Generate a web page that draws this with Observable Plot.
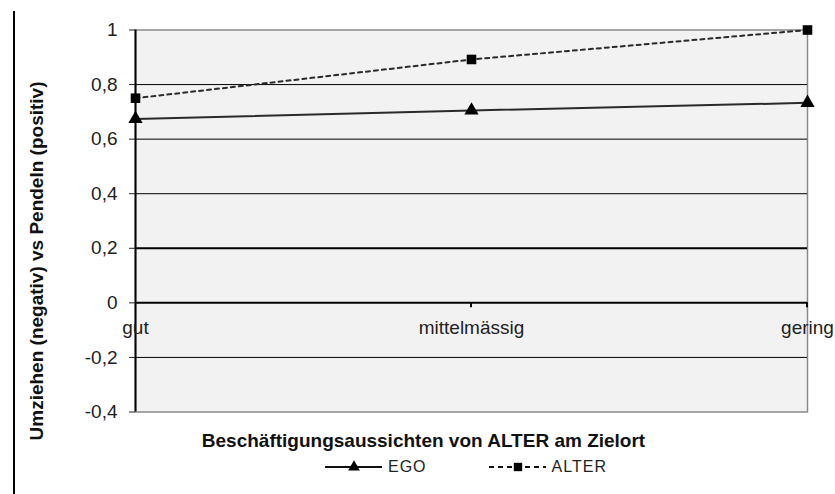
<!DOCTYPE html>
<html><head><meta charset="utf-8">
<script src="https://cdn.jsdelivr.net/npm/d3@7"></script>
<script src="https://cdn.jsdelivr.net/npm/@observablehq/plot@0.6"></script>
<style>
body{margin:0;background:#fff;font-family:"Liberation Sans",Arial,sans-serif;}
#wrap{position:relative;width:835px;height:494px;overflow:hidden;}
#vline{position:absolute;left:13px;top:11px;width:2px;height:483px;background:#000;}
#title{position:absolute;left:0;width:835px;top:431px;text-align:center;font-weight:bold;font-size:19px;line-height:19px;color:#111;padding-left:12px;box-sizing:border-box;}
#legend{position:absolute;top:457px;left:325px;height:20px;display:flex;align-items:center;font-size:16px;letter-spacing:1px;color:#222;}
#legend .item{display:flex;align-items:center;}
#legend svg{display:block;}
</style></head>
<body>
<div id="wrap">
<div id="chart"></div>
<div id="vline"></div>
<div id="title"></div>
<div id="legend"></div>
</div>
<script>
const categories = ["gut", "mittelmässig", "gering"];
const egoValues = [0.674, 0.705, 0.733];
const alterValues = [0.75, 0.892, 1.0];
const seriesNames = ["EGO", "ALTER"];
const yTicks = [-0.4, -0.2, 0, 0.2, 0.4, 0.6, 0.8, 1];
const categoryAxisAt = 0;
const xTitle = "Beschäftigungsaussichten von ALTER  am Zielort";
const yTitle = "Umziehen (negativ) vs Pendeln (positiv)";

const ego = categories.map((c, i) => ({cat: c, v: egoValues[i]}));
const alter = categories.map((c, i) => ({cat: c, v: alterValues[i]}));
const catLabels = categories.map(c => ({cat: c, v: categoryAxisAt}));
const fmt = d => String(Math.round(d * 10) / 10).replace(".", ",");
const inner = yTicks.filter(t => t > yTicks[0] && t < yTicks[yTicks.length - 1]);

const chart = Plot.plot({
  width: 835,
  height: 430,
  marginLeft: 135,
  marginRight: 28,
  marginTop: 29.5,
  marginBottom: 18.5,
  style: {fontFamily: '"Liberation Sans", Arial, sans-serif', background: "transparent", overflow: "visible"},
  x: {type: "point", domain: categories, padding: 0, axis: null},
  y: {domain: [yTicks[0], yTicks[yTicks.length - 1]], axis: null},
  marks: [
    Plot.frame({fill: "#f2f2f2", stroke: "#8a8a8a", strokeWidth: 1.5}),
    Plot.ruleY(inner, {stroke: "#000", strokeWidth: d => (d === 0 || d === 0.2) ? 2 : 1}),
    Plot.ruleX([categories[0]], {stroke: "#000", strokeWidth: 2}),
    Plot.axisY({ticks: yTicks, tickFormat: fmt, tickSize: 6, tickPadding: 12, fontSize: 19, color: "#222", label: null}),
    Plot.text([yTitle], {frameAnchor: "left", textAnchor: "middle", rotate: -90, lineAnchor: "bottom", dx: -93, dy: 40, fontSize: 19, fontWeight: "bold", fill: "#111"}),
    Plot.text(catLabels, {x: "cat", y: "v", text: "cat", dy: 31, lineAnchor: "bottom", fontSize: 19, fill: "#222"}),
    Plot.line(ego, {x: "cat", y: "v", stroke: "#2a2a2a", strokeWidth: 2}),
    Plot.line(alter, {x: "cat", y: "v", stroke: "#2a2a2a", strokeWidth: 2, strokeDasharray: "4,4"}),
    Plot.dot(ego, {x: "cat", y: "v", symbol: "triangle", r: 5.3, fill: "#000", stroke: "none"}),
    Plot.dot(alter, {x: "cat", y: "v", symbol: "square", r: 5.4, fill: "#000", stroke: "none"})
  ]
});
document.getElementById("chart").appendChild(chart);

// category tick marks at the category axis (zero line), pointing down
const y = chart.scale("y"), x = chart.scale("x");
const svg = d3.select(chart);
svg.append("g").selectAll("line").data(categories.slice(1)).join("line")
  .attr("x1", d => x.apply(d)).attr("x2", d => x.apply(d))
  .attr("y1", y.apply(categoryAxisAt)).attr("y2", y.apply(categoryAxisAt) + 5)
  .attr("stroke", "#000").attr("stroke-width", 2);

document.getElementById("title").textContent = xTitle;

const legend = document.getElementById("legend");
function swatch(dashed, symbol) {
  const s = d3.create("svg").attr("width", 58).attr("height", 20);
  s.append("line").attr("x1", 0).attr("x2", 57).attr("y1", 10).attr("y2", 10)
    .attr("stroke", "#111").attr("stroke-width", 2).attr("stroke-dasharray", dashed ? "5,4" : null);
  const sym = d3.symbol().type(symbol === "triangle" ? d3.symbolTriangle : d3.symbolSquare).size(symbol === "triangle" ? 60 : 70);
  s.append("path").attr("d", sym()).attr("transform", "translate(29,10)").attr("fill", "#000");
  return s.node();
}
seriesNames.forEach((name, i) => {
  const it = document.createElement("div");
  it.className = "item";
  it.style.marginRight = i === 0 ? "62px" : "0";
  it.appendChild(swatch(i === 1, i === 0 ? "triangle" : "square"));
  const t = document.createElement("span");
  t.textContent = name;
  t.style.marginLeft = "5px";
  it.appendChild(t);
  legend.appendChild(it);
});
</script>
</body></html>
